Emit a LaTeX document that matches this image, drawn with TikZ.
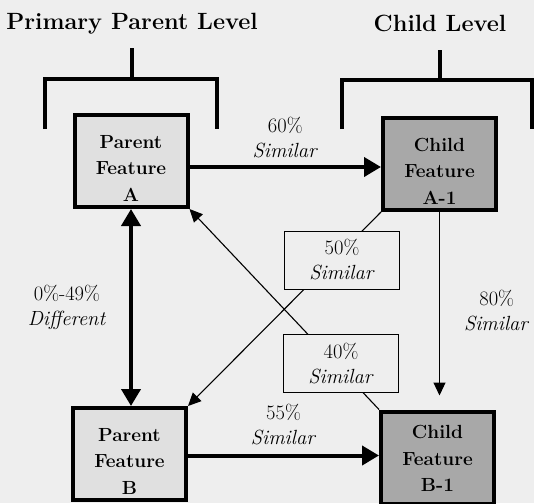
\documentclass[tikz,border=0pt]{standalone}
\usepackage{fontspec}
\usepackage{xcolor}
\definecolor{paperBg}{HTML}{EEEEEE}
\definecolor{parentFill}{HTML}{E0E0E0}
\definecolor{childFill}{HTML}{A8A8A8}
\usepackage{tikz}
\usetikzlibrary{positioning,calc,arrows.meta}
\tikzset{%
  featureBox/.style={%
    rectangle,
    draw=black,
    line width=4pt,
    minimum width=113pt,
    minimum height=92pt,
    inner sep=0pt,
    text height=80pt,
    align=center,
    font=\fontsize{19}{26.5}\selectfont\bfseries
  },
  parentBox/.style={%
    featureBox,
    fill=parentFill
  },
  childBox/.style={%
    featureBox,
    fill=childFill
  },
  simBox/.style={%
    rectangle,
    draw=black,
    line width=1pt,
    fill=paperBg,
    minimum width=115pt,
    minimum height=58pt,
    inner sep=0pt,
    align=center,
    font=\fontsize{20.5}{25}\selectfont
  },
  pctLabel/.style={%
    inner sep=0pt,
    align=center,
    font=\fontsize{20.5}{25}\selectfont
  },
  levelTitle/.style={%
    inner sep=0pt,
    anchor=base,
    font=\fontsize{23.5}{30}\selectfont\bfseries
  },
  bracketLine/.style={%
    line width=4pt
  },
  boldArrow/.style={%
    -{Triangle[length=17pt,width=19pt]},
    line width=4pt
  },
  thinArrow/.style={%
    -{Triangle[length=13pt,width=12pt]},
    line width=1.1pt
  }
}

\begin{document}
\begin{tikzpicture}[x=1pt,y=-1pt]
  \fill[paperBg] (0,0) rectangle (534,503);
  \useasboundingbox (0,0) rectangle (534,503);

  % level titles and brackets
  \node[levelTitle] (parentTitle) at (132,30) {Primary Parent Level};
  \node[levelTitle] (childTitle) at (440,31) {Child Level};
  \draw[bracketLine] (45,129) -- (45,79) -- (217,79) -- (217,129);
  \draw[bracketLine] (132,79) -- (132,48);
  \draw[bracketLine] (342,129) -- (342,80) -- (540,80);
  \draw[bracketLine] (532,80) -- (532,129);
  \draw[bracketLine] (440,80) -- (440,50);

  % features
  \node[parentBox] (parentA) at (131,161) {Parent\\Feature\\A};
  \node[childBox] (childA) at (439.5,164) {Child\\Feature\\A-1};
  \node[parentBox] (parentB) at (129.5,454) {Parent\\Feature\\B};
  \node[childBox, text height=68pt] (childB) at (437.5,457.5) {Child\\Feature\\B-1};

  % cross links
  \draw[thinArrow] (childA.south west) -- (parentB.north east);
  \draw[thinArrow] (childB.north west) -- (parentA.south east);
  \node[simBox] (simFifty) at (342,260) {50\%\\\textit{Similar}};
  \node[simBox] (simForty) at (341,363.5) {40\%\\\textit{Similar}};

  \draw[boldArrow] ([yshift=-6pt]parentA.east) -- ([yshift=-6pt]parentA.east -| childA.west)
    node[pctLabel, midway, above=7pt] (simSixty) {60\%\\\textit{Similar}};
  \draw[boldArrow] ([yshift=-1.5pt]parentB.east) -- ([yshift=-1.5pt]parentB.east -| childB.west)
    node[pctLabel, midway, above=8.5pt] (simFiftyFive) {55\%\\\textit{Similar}};
  \draw[boldArrow, {Triangle[length=17pt,width=19pt]}-{Triangle[length=17pt,width=19pt]}]
    (parentA.south) -- (parentA.south |- parentB.north)
    node[pctLabel, midway, left=23pt] (diffLabel) {0\%-49\%\\\textit{Different}};
  \draw[thinArrow, shorten >=14pt] (childA.south) -- (childA.south |- childB.north)
    node[pctLabel, midway, right=24pt] (simEighty) {80\%\\\textit{Similar}};
\end{tikzpicture}
\end{document}
